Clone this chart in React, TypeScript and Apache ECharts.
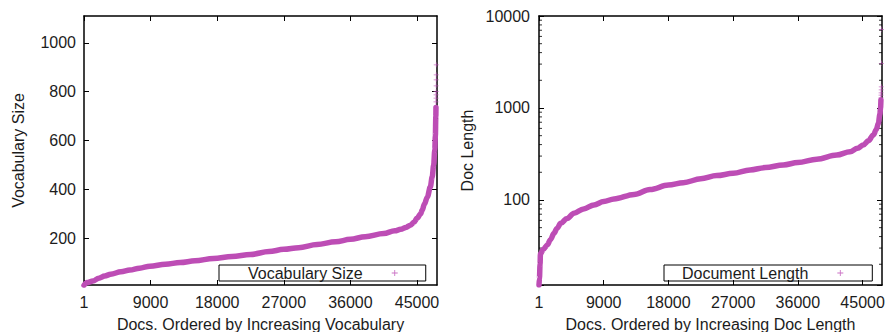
import React, { useEffect, useRef } from 'react';
import * as echarts from 'echarts';

// ---- data ----
const X_MAX = 47700;
const X_TICKS = [1, 9000, 18000, 27000, 36000, 45000];
const VOCAB_TICKS = [200, 400, 600, 800, 1000];
const DOCLEN_MINOR_TICKS = [20, 30, 40, 50, 60, 70, 80, 90, 200, 300, 400, 500, 600, 700, 800, 900, 2000, 3000, 4000, 5000, 6000, 7000, 8000, 9000];

const vocabIdx = [1, 400, 1200, 2000, 2800, 3600, 5000, 6200, 7500, 8900, 11000, 13000, 15000, 17500, 20000, 22500, 25000, 27000, 29000, 31500, 34000, 36000, 38000, 40500, 42000, 42800, 43500, 44100, 44600, 45000, 45500, 45700, 46000, 46400, 46800, 47050, 47250, 47400, 47480, 47540, 47560];
const vocabSize = [7, 18, 24, 36, 45, 52, 62, 69, 77, 85, 93, 100, 107, 117, 125, 133, 145, 154, 161, 174, 185, 195, 206, 219, 230, 236, 244, 253, 265, 281, 300, 315, 340, 369, 410, 451, 500, 561, 620, 698, 735];
const vocabTailIdx = [47565, 47570, 47575, 47580, 47585, 47590, 47595, 47600];
const vocabTail = [758, 774, 787, 800, 824, 848, 869, 910];

const docIdx = [1, 60, 150, 200, 600, 1155, 1600, 2087, 2500, 3020, 3900, 4870, 6200, 7650, 9000, 10430, 13220, 15440, 18000, 20070, 22500, 24720, 27000, 29350, 31500, 33980, 36000, 38630, 41410, 43260, 44300, 45110, 45800, 46500, 46900, 47200, 47400, 47500, 47550];
const docLen = [11.9, 14, 20, 26, 29, 32.4, 37, 43.5, 49, 55.7, 63, 71.7, 80, 88.3, 96, 102.5, 115, 130, 145, 154, 170, 184, 195, 212, 225, 240, 255, 277, 308, 335, 365, 396, 440, 509, 580, 682, 850, 1000, 1220];
const docTailIdx = [47560, 47570, 47580, 47590, 47600, 47610, 47620];
const docTail = [1300, 1380, 1460, 1570, 1700, 3060, 7170];

const VOCAB_NAME = 'Vocabulary Size';
const DOC_NAME = 'Document Length';

// ---- styles ----
const FONT = "'Liberation Sans', Arial, Helvetica, sans-serif";
const PURPLE = '#bd4db5';
const INK = '#1c1c1c';
const PLUS = 'path://M3,0h1v3h3v1h-3v3h-1v-3h-3v-1h3z';

const zip = (a: number[], b: number[]) => a.map((v, i) => [v, b[i]]);

const axisLine = { show: true, onZero: false, lineStyle: { color: '#000', width: 1.5 } };
const tickStyle = { color: '#000', width: 1 };
const labelStyle = { color: INK, fontSize: 16, fontFamily: FONT };
const nameStyle = { color: INK, fontSize: 16, fontFamily: FONT };
const fmt = (v: number) => String(v);
const logFmt = (v: number) => {
  const l = Math.log10(v);
  return Math.abs(l - Math.round(l)) < 1e-6 ? String(Math.round(v)) : '';
};

function makeXAxes(gridIndex: number, name: string) {
  const base: any = {
    type: 'value',
    gridIndex,
    min: 1,
    max: X_MAX,
    axisLine,
    splitLine: { show: false },
    axisTick: { inside: true, length: 5, customValues: X_TICKS, lineStyle: tickStyle },
  };
  return [
    {
      ...base,
      position: 'bottom',
      name,
      nameLocation: 'middle',
      nameGap: 31,
      nameTextStyle: nameStyle,
      axisLabel: { ...labelStyle, customValues: X_TICKS, formatter: fmt, margin: 9 },
    },
    { ...base, position: 'top', axisLabel: { show: false } },
  ];
}

function legendFor(left: number, name: string, padLeft: number, padRight: number) {
  return {
    left,
    top: 265,
    orient: 'horizontal',
    align: 'right',
    padding: [0, padRight, 0, padLeft],
    borderColor: '#000',
    borderWidth: 1,
    borderRadius: 0,
    itemWidth: 6,
    itemHeight: 6,
    selectedMode: false,
    textStyle: { ...labelStyle, lineHeight: 16, padding: [0, 24, 0, 0] },
    data: [{ name, icon: PLUS, itemStyle: { color: PURPLE, borderWidth: 0 } }],
  };
}

const lineSeries = (name: string, xi: number, yi: number, data: number[][]) => ({
  name,
  type: 'line',
  xAxisIndex: xi,
  yAxisIndex: yi,
  showSymbol: false,
  symbol: 'none',
  smooth: 0.35,
  smoothMonotone: 'x',
  color: PURPLE,
  lineStyle: { color: PURPLE, width: 5.5, cap: 'round', join: 'round' },
  data,
});

const tailSeries = (name: string, xi: number, yi: number, data: number[][]) => ({
  name,
  type: 'scatter',
  xAxisIndex: xi,
  yAxisIndex: yi,
  symbol: PLUS,
  symbolSize: 5,
  itemStyle: { color: PURPLE },
  data,
});

const minorTicks = (x: number, offset: number) => ({
  name: 'minor-' + x,
  type: 'scatter',
  xAxisIndex: 2,
  yAxisIndex: 2,
  symbol: 'rect',
  symbolSize: [3, 1],
  symbolOffset: [offset, 0],
  clip: false,
  silent: true,
  itemStyle: { color: '#000' },
  data: DOCLEN_MINOR_TICKS.map((v) => [x, v]),
});

export default function App() {
  const ref = useRef<HTMLDivElement>(null);
  useEffect(() => {
    if (!ref.current) return;
    const chart = echarts.init(ref.current, undefined, { renderer: 'svg' });
    const option: any = {
      animation: false,
      backgroundColor: '#fff',
      textStyle: { fontFamily: FONT },
      grid: [
        { left: 84, top: 16, width: 353, height: 269, containLabel: false, outerBoundsMode: 'none' },
        { left: 539, top: 16, width: 343, height: 269, containLabel: false, outerBoundsMode: 'none' },
      ],
      legend: [legendFor(219, VOCAB_NAME, 29, 28), legendFor(664, DOC_NAME, 18, 29)],
      xAxis: [
        ...makeXAxes(0, 'Docs. Ordered by Increasing Vocabulary'),
        ...makeXAxes(1, 'Docs. Ordered by Increasing Doc Length'),
      ],
      yAxis: [
        {
          type: 'value',
          gridIndex: 0,
          position: 'left',
          min: 8,
          max: 1110,
          axisLine,
          splitLine: { show: false },
          axisTick: { inside: true, length: 5, customValues: VOCAB_TICKS, lineStyle: tickStyle },
          axisLabel: { ...labelStyle, customValues: VOCAB_TICKS, formatter: fmt, margin: 8 },
          name: 'Vocabulary Size',
          nameLocation: 'middle',
          nameGap: 58,
          nameTextStyle: nameStyle,
        },
        {
          type: 'value',
          gridIndex: 0,
          position: 'right',
          min: 8,
          max: 1110,
          axisLine,
          splitLine: { show: false },
          axisTick: { inside: true, length: 5, customValues: VOCAB_TICKS, lineStyle: tickStyle },
          axisLabel: { show: false },
        },
        {
          type: 'log',
          logBase: 10,
          gridIndex: 1,
          position: 'left',
          min: 11.9,
          max: 10000,
          axisLine,
          splitLine: { show: false },
          axisTick: { inside: true, length: 5, lineStyle: tickStyle },
          axisLabel: { ...labelStyle, formatter: logFmt, margin: 9 },
          name: 'Doc Length',
          nameLocation: 'middle',
          nameGap: 64,
          nameTextStyle: nameStyle,
        },
        {
          type: 'log',
          logBase: 10,
          gridIndex: 1,
          position: 'right',
          min: 11.9,
          max: 10000,
          axisLine,
          splitLine: { show: false },
          axisTick: { inside: true, length: 5, lineStyle: tickStyle },
          axisLabel: { show: false },
        },
      ],
      series: [
        tailSeries(VOCAB_NAME, 0, 0, zip(vocabTailIdx, vocabTail)),
        lineSeries(VOCAB_NAME, 0, 0, zip(vocabIdx, vocabSize)),
        tailSeries(DOC_NAME, 2, 2, zip(docTailIdx, docTail)),
        lineSeries(DOC_NAME, 2, 2, zip(docIdx, docLen)),
        minorTicks(1, 1.5),
        minorTicks(X_MAX, -1.5),
      ],
    };
    chart.setOption(option);
    return () => chart.dispose();
  }, []);
  return (
    <div
      ref={ref}
      style={{ position: 'absolute', left: 0, top: 0, width: 888, height: 332, background: '#fff' }}
    />
  );
}
